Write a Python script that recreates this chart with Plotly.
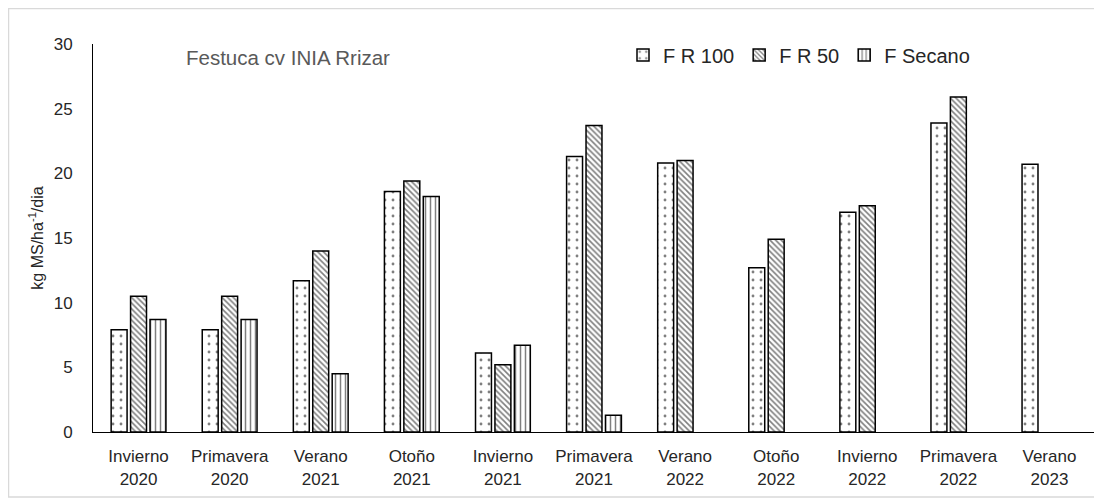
import plotly.graph_objects as go

categories = ["Invierno<br>2020", "Primavera<br>2020", "Verano<br>2021", "Otoño<br>2021",
              "Invierno<br>2021", "Primavera<br>2021", "Verano<br>2022", "Otoño<br>2022",
              "Invierno<br>2022", "Primavera<br>2022", "Verano<br>2023"]
fr100 = [7.9, 7.9, 11.7, 18.6, 6.1, 21.3, 20.8, 12.7, 17.0, 23.9, 20.7]
fr50 = [10.5, 10.5, 14.0, 19.4, 5.2, 23.7, 21.0, 14.9, 17.5, 25.9, None]
secano = [8.7, 8.7, 4.5, 18.2, 6.7, 1.3, None, None, None, None, None]

# the page body adds an 8px margin, so the figure is drawn 8px smaller
OFF = 8
W, H = 1102 - OFF, 504 - OFF
L, R, T, B = 93 - OFF, 7, 44 - OFF, 72
pw, ph = W - L - R, H - T - B

FONT = "Liberation Sans, Arial, sans-serif"


def px_x(x):
    return (x - OFF - L) / pw


def px_y(y):
    return (H + OFF - B - y) / ph


fig = go.Figure()
fig.add_trace(go.Bar(x=categories, y=fr100, name="F R 100",
                     marker=dict(color="white", line=dict(color="black", width=1.5),
                                 pattern=dict(shape=".", fgcolor="black", bgcolor="white",
                                              size=8, solidity=0.1))))
fig.add_trace(go.Bar(x=categories, y=fr50, name="F R 50",
                     marker=dict(color="white", line=dict(color="black", width=1.5),
                                 pattern=dict(shape="\\", fgcolor="black", bgcolor="white",
                                              size=4, solidity=0.4))))
fig.add_trace(go.Bar(x=categories, y=secano, name="F Secano",
                     marker=dict(color="white", line=dict(color="black", width=1.5),
                                 pattern=dict(shape="|", fgcolor="black", bgcolor="white",
                                              size=5, solidity=0.3))))

# light grey frame around the chart
fig.add_shape(type="rect", xref="paper", yref="paper",
              x0=px_x(8.5), x1=px_x(1101), y0=px_y(497), y1=px_y(8.5),
              line=dict(color="#d9d9d9", width=1.5), layer="below")

fig.add_annotation(text="Festuca cv INIA Rrizar", xref="paper", yref="paper",
                   x=px_x(184), y=px_y(57), xanchor="left", yanchor="middle",
                   showarrow=False, font=dict(size=20.5, color="#595959", family=FONT))

fig.update_layout(
    width=W, height=H,
    margin=dict(l=L, r=R, t=T, b=B),
    barmode="group", bargap=0.36, bargroupgap=0.18,
    plot_bgcolor="white", paper_bgcolor="white",
    font=dict(family=FONT, color="#262626", size=17),
    showlegend=True,
    legend=dict(orientation="h", x=px_x(623), y=px_y(55),
                xanchor="left", yanchor="middle", font=dict(size=20),
                itemwidth=30, tracegroupgap=0, bgcolor="rgba(0,0,0,0)"),
    xaxis=dict(showline=True, linecolor="black", linewidth=1, ticks="",
               ticklabelstandoff=9, tickfont=dict(size=17)),
    yaxis=dict(range=[0, 30], dtick=5, showgrid=False, zeroline=False,
               showline=True, linecolor="black", linewidth=1, ticks="",
               ticklabelstandoff=16, tickfont=dict(size=17),
               title=dict(text="kg MS/ha<sup>-1</sup>/dia", font=dict(size=16), standoff=6)),
)

fig.write_html("out.html")
